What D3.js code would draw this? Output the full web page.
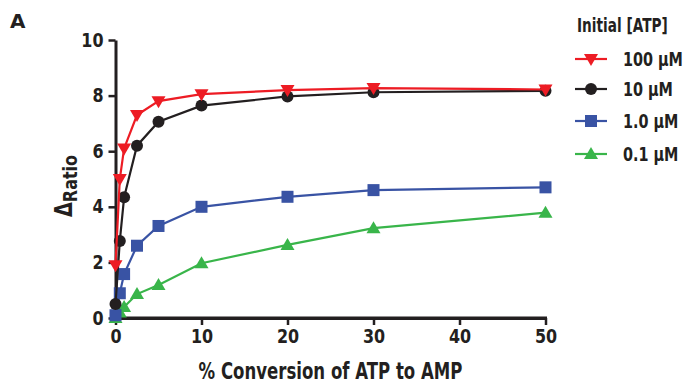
<!DOCTYPE html>
<html>
<head>
<meta charset="utf-8">
<script src="https://cdn.jsdelivr.net/npm/d3@7"></script>
<style>
  body { margin: 0; background: #fff; }
  text { font-family: "DejaVu Sans", sans-serif; font-weight: bold; fill: #231f20; }
</style>
</head>
<body>
<div id="chart"></div>
<script>
// values
const conversion = [0, 0.5, 1, 2.5, 5, 10, 20, 30, 50];
const atp100 = [1.9, 5.0, 6.1, 7.3, 7.8, 8.05, 8.2, 8.27, 8.22];
const atp10 = [0.5, 2.77, 4.34, 6.2, 7.06, 7.64, 7.97, 8.12, 8.17];
const atp1 = [0.1, 0.89, 1.58, 2.6, 3.31, 4.0, 4.36, 4.6, 4.7];
const atp01 = [0, 0.2, 0.4, 0.86, 1.19, 1.97, 2.63, 3.23, 3.79];
const seriesNames = ['100 \u00b5M', '10 \u00b5M', '1.0 \u00b5M', '0.1 \u00b5M'];
const xTicks = [0, 10, 20, 30, 40, 50];
const yTicks = [0, 2, 4, 6, 8, 10];

const series = [
    { name: seriesNames[0], values: atp100, color: '#ed1c24', shape: 'down' },
    { name: seriesNames[1], values: atp10, color: '#231f20', shape: 'circle' },
    { name: seriesNames[2], values: atp1, color: '#3953a4', shape: 'square' },
    { name: seriesNames[3], values: atp01, color: '#39b54a', shape: 'up' },
];

const width = 684;
const height = 387;
// horizontal squeeze to mimic a condensed face
const sxTick = 0.84;
const sx = 0.72;
const svg = d3.select('#chart').append('svg')
    .attr('width', width)
    .attr('height', height);

const x = d3.scaleLinear().domain([0, 50]).range([115.5, 545.5]);
const y = d3.scaleLinear().domain([0, 10]).range([318, 40]);

function label(px, py, str, size, anchor, k) {
    return svg.append('text')
        .attr('transform', 'translate(' + px + ',' + py + ') scale(' + (k || sx) + ',1)')
        .attr('text-anchor', anchor || 'start')
        .style('font-size', size + 'px')
        .text(str);
}

// marker drawing
function marker(g, shape, color) {
    if (shape === 'circle') {
        g.append('circle').attr('r', 6).attr('fill', color);
    } else if (shape === 'square') {
        g.append('rect').attr('x', -6).attr('y', -6).attr('width', 12).attr('height', 12).attr('fill', color);
    } else if (shape === 'up') {
        g.append('path').attr('d', 'M0,-7L7,5L-7,5Z').attr('fill', color);
    } else {
        g.append('path').attr('d', 'M0,7L7,-5L-7,-5Z').attr('fill', color);
    }
}

// axes
const xAxis = svg.append('g')
    .attr('transform', 'translate(0,' + y(0) + ')')
    .call(d3.axisBottom(x).tickValues(xTicks).tickSize(7).tickSizeOuter(0).tickPadding(5));
const yAxis = svg.append('g')
    .attr('transform', 'translate(' + x(0) + ',0)')
    .call(d3.axisLeft(y).tickValues(yTicks).tickSize(7).tickSizeOuter(0).tickPadding(5));

[xAxis, yAxis].forEach(ax => {
    ax.select('.domain').attr('stroke', '#231f20').attr('stroke-width', 3);
    ax.selectAll('.tick line').attr('stroke', '#231f20').attr('stroke-width', 2.5);
    ax.selectAll('.tick text')
        .style('font-size', '19px')
        .attr('fill', '#231f20')
        .attr('x', function () { return (+d3.select(this).attr('x') || 0) / sxTick; })
        .attr('transform', 'scale(' + sxTick + ',1)');
});
svg.append('line')
    .attr('x1', x(0) - 1.5).attr('x2', x(50) + 1.5)
    .attr('y1', y(0)).attr('y2', y(0))
    .attr('stroke', '#231f20').attr('stroke-width', 3);

// lines and markers
const line = d3.line()
    .x((d, i) => x(conversion[i]))
    .y(d => y(d));

series.slice().reverse().forEach(s => {
    svg.append('path')
        .attr('d', line(s.values))
        .attr('fill', 'none')
        .attr('stroke', s.color)
        .attr('stroke-width', 2.2);
    s.values.forEach((v, i) => {
        const g = svg.append('g').attr('transform', 'translate(' + x(conversion[i]) + ',' + y(v) + ')');
        marker(g, s.shape, s.color);
    });
});

// labels
label(10, 28, 'A', 20, 'start', 1);
label((x(0) + x(50)) / 2, 379, '% Conversion of ATP to AMP', 23, 'middle');

const yl = svg.append('text')
    .attr('transform', 'translate(72,186) rotate(-90) scale(0.8,1)')
    .attr('text-anchor', 'middle');
yl.append('tspan').style('font-size', '24px').text('\u0394');
yl.append('tspan').style('font-size', '20px').attr('dy', 5).text('Ratio');

// legend
label(577, 32, 'Initial [ATP]', 19);
const legendY = [59, 89, 121, 154];
series.forEach((s, i) => {
    const ly = legendY[i];
    svg.append('line')
        .attr('x1', 575).attr('x2', 607)
        .attr('y1', ly).attr('y2', ly)
        .attr('stroke', s.color).attr('stroke-width', 2.2);
    const g = svg.append('g').attr('transform', 'translate(591,' + ly + ')');
    marker(g, s.shape, s.color);
    label(623, ly + 7, s.name, 20);
});
</script>
</body>
</html>
